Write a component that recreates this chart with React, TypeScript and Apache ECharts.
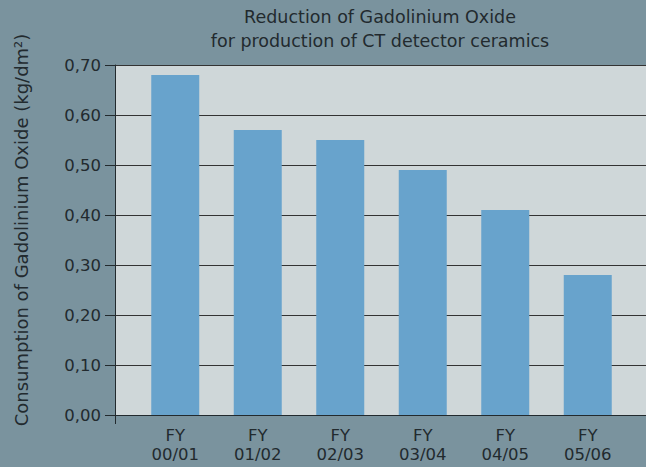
import React, { useEffect, useRef } from "react";
import * as echarts from "echarts";

const categories = ["FY\n00/01", "FY\n01/02", "FY\n02/03", "FY\n03/04", "FY\n04/05", "FY\n05/06"];
const values = [0.68, 0.57, 0.55, 0.49, 0.41, 0.28];
const titleLines = ["Reduction of Gadolinium Oxide", "for production of CT detector ceramics"];
const yAxisName = "Consumption of Gadolinium Oxide (kg/dm²)";

const FONT = "'DejaVu Sans', 'Noto Sans', sans-serif";
const TEXT = "#222a2e";

export default function App() {
  const ref = useRef<HTMLDivElement>(null);
  useEffect(() => {
    document.body.style.margin = "0";
    const chart = echarts.init(ref.current!, undefined, { renderer: "svg" });
    chart.setOption({
      animation: false,
      backgroundColor: "#7a939e",
      textStyle: { fontFamily: FONT },
      grid: [
        { left: 115, right: 0, top: 65, bottom: 52, show: true, backgroundColor: "#cfd7d9", borderWidth: 0 },
        { left: 134, right: 17, top: 65, bottom: 52 },
      ],
      xAxis: [
        {
          type: "category",
          gridIndex: 0,
          data: categories,
          axisLine: { show: true, lineStyle: { color: TEXT, width: 1 } },
          axisTick: { show: false },
          axisLabel: { show: false },
        },
        {
          type: "category",
          gridIndex: 1,
          data: categories,
          axisLine: { show: false },
          axisTick: { show: false },
          axisLabel: { color: TEXT, fontSize: 16.5, lineHeight: 19, margin: 11, fontFamily: FONT },
        },
      ],
      yAxis: [
        {
          type: "value",
          gridIndex: 0,
          min: 0,
          max: 0.7,
          interval: 0.1,
          axisLine: { show: true, lineStyle: { color: TEXT, width: 1 } },
          axisTick: { show: true, length: 10, lineStyle: { color: TEXT } },
          axisLabel: {
            color: TEXT,
            fontSize: 16.5,
            margin: 14,
            padding: [0, 0, 5, 0],
            fontFamily: FONT,
            formatter: (v: number) => v.toFixed(2).replace(".", ","),
          },
          splitLine: { show: true, lineStyle: { color: "#333", width: 1 } },
        },
        {
          type: "value",
          gridIndex: 1,
          min: 0,
          max: 0.7,
          interval: 0.1,
          show: false,
          splitLine: { show: false },
        },
      ],
      series: [
        {
          type: "bar",
          xAxisIndex: 1,
          yAxisIndex: 1,
          data: values,
          barWidth: 48,
          itemStyle: { color: "#68a3cc" },
          z: 5,
        },
      ],
      graphic: [
        {
          type: "text",
          x: 380,
          y: 29,
          style: {
            text: titleLines.join("\n"),
            align: "center",
            verticalAlign: "middle",
            lineHeight: 24,
            fontSize: 17.5,
            fontFamily: FONT,
            fill: TEXT,
          },
        },
        {
          type: "text",
          x: 21.5,
          y: 230,
          rotation: Math.PI / 2,
          style: {
            text: yAxisName,
            align: "center",
            verticalAlign: "middle",
            fontSize: 18,
            fontFamily: FONT,
            fill: TEXT,
          },
        },
        {
          type: "line",
          shape: { x1: 115.5, y1: 415, x2: 115.5, y2: 424 },
          style: { stroke: TEXT, lineWidth: 1 },
        },
      ],
    });
    return () => chart.dispose();
  }, []);
  return <div ref={ref} style={{ width: 646, height: 467 }} />;
}
